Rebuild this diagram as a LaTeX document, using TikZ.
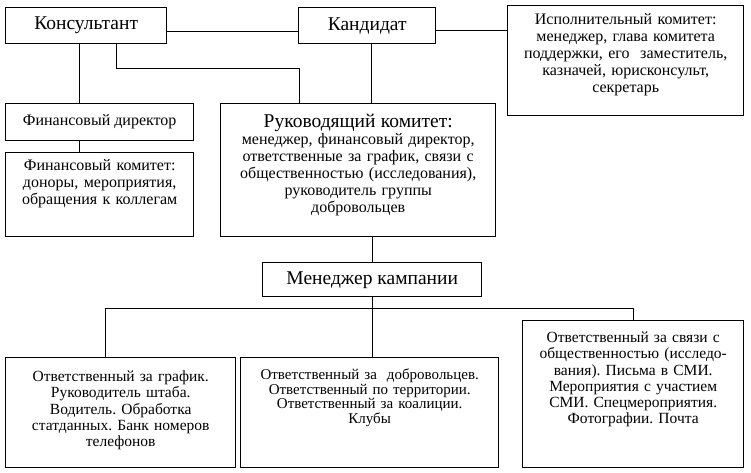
\documentclass[tikz,border=0pt]{standalone}
\usepackage{fontspec}
\setmainfont{Liberation Serif}
\usepackage{tikz}
\usetikzlibrary{positioning}
\frenchspacing

\newcommand{\bigtxt}{\fontsize{19.5}{22}\selectfont}
\newcommand{\smalltxt}{\fontsize{16}{17}\selectfont}
\newcommand{\lowtxt}{\fontsize{15.5}{16.2}\selectfont}

\begin{document}
\begin{tikzpicture}[x=1pt,y=-1pt]

%\draw[help lines] (0,0) grid (751,473);
\useasboundingbox (0,0) rectangle (751,473);

% Define block styles
\tikzstyle{blok}=[draw, line width=1.4pt, inner sep=3pt, align=center,
  font=\smalltxt]
\tikzstyle{glava}=[blok, font=\bigtxt]
\tikzstyle{niz}=[blok, font=\lowtxt]
\tikzstyle{line}=[draw, line width=1.3pt]

% Top row
\path node[anchor=north west] at (5,7) (kons) [glava, minimum width=161,
  minimum height=36] {Консультант};
\path node[anchor=north west] at (298,7) (kand) [glava, minimum width=137,
  minimum height=36] {Кандидат};
\path node[anchor=north west] at (507,5) (isp) [blok, text width=230,
  text height=16, text depth=88] {%
Исполнительный комитет:\\
менеджер, глава комитета\\
поддержки, его~ заместитель,\\
казначей, юрисконсульт,\\
секретарь};

% Finance branch
\path node[anchor=north west] at (5,103) (fdir) [blok, minimum width=188,
  minimum height=37] {Финансовый директор};
\path node[anchor=north west] at (5,152) (fcom) [blok, text width=182,
  text height=15, text depth=63] {%
Финансовый комитет:\\
доноры, мероприятия,\\
обращения к коллегам};

% Steering committee
\path node[anchor=north west] at (220,103) (ruk) [blok, text width=269,
  text height=21, text depth=106] {%
{\bigtxt Руководящий комитет:}\\
менеджер, финансовый директор,\\
ответственные за график, связи с\\
общественностью (исследования),\\
руководитель группы\\
добровольцев};

\path node[anchor=north west] at (262,262) (men) [glava, minimum width=219,
  minimum height=34] {Менеджер кампании};

% Bottom row
\path node[anchor=north west] at (5,357) (b1) [niz, text width=224,
  text height=21, text depth=83] {%
Ответственный за график.\\
Руководитель штаба.\\
Водитель. Обработка\\
статданных. Банк номеров\\
телефонов};
\path node[anchor=north west] at (240,357) (b2) [niz, text width=252,
  text height=19, text depth=85, font=\fontsize{15}{14.5}\selectfont] {%
Ответственный за~ добровольцев.\\
Ответственный по территории.\\
Ответственный за коалиции.\\
Клубы};
\path node[anchor=north west] at (522,320) (b3) [niz, text width=215,
  text height=19, text depth=122] {%
Ответственный за связи с\\
общественностью (исследо-\\
вания). Письма в СМИ.\\
Мероприятия с участием\\
СМИ. Спецмероприятия.\\
Фотографии. Почта};

% Connectors
\coordinate (kk) at ([yshift=-6pt]kons.east);
\coordinate (ki) at ([yshift=-5pt]kand.east);
\coordinate (k1) at ([xshift=-6.5pt]kons.south);
\coordinate (k2) at ([xshift=30.5pt]kons.south);
\coordinate (r1) at ([xshift=-58.5pt]ruk.north);
\coordinate (r2) at ([xshift=4.5pt]kand.south);
\coordinate (bus) at ([yshift=-11pt]men.south);
\coordinate (n1) at ([xshift=-15pt]b1.north);

\path[line] (kk) -- (kk -| kand.west);
\path[line] (ki) -- (ki -| isp.west);
\path[line] (k1) -- (k1 |- fdir.north);
\path[line] (k1 |- fdir.south) -- (k1 |- fcom.north);
\path[line] (k2) -- ++(0,24) -| (r1);
\path[line] (r2) -- (r2 |- ruk.north);
\path[line] (ruk.south -| men.north) -- (men.north);
\path[line] (men.south) -- (men.south |- b2.north);
\path[line] (n1) -- (n1 |- bus) -- (bus -| b3.north) -- (b3.north);

\end{tikzpicture}
\end{document}
